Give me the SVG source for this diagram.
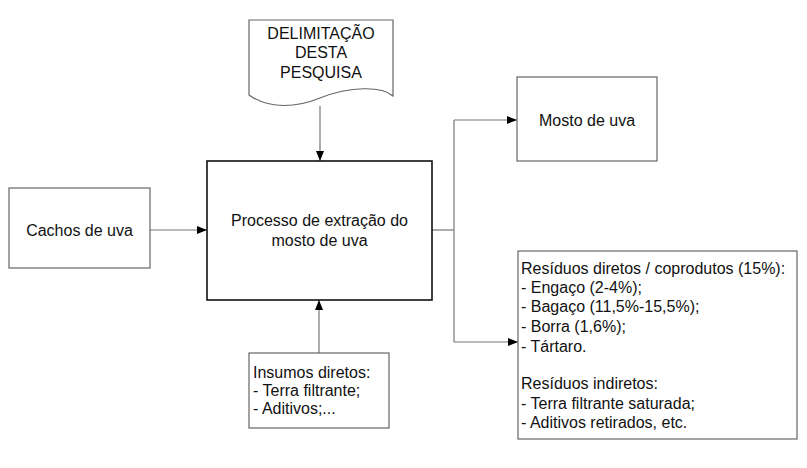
<svg xmlns="http://www.w3.org/2000/svg" width="807" height="468" viewBox="0 0 807 468">
<style>
text{font-family:"Liberation Sans",Arial,sans-serif;font-size:16px;fill:#111}
.box{fill:#fff;stroke:#666;stroke-width:1.2}
.main{fill:#fff;stroke:#111;stroke-width:1.6}
.c{fill:none;stroke:#777;stroke-width:1.2}
.m{text-anchor:middle}
</style>
<defs>
<marker id="ah" viewBox="0 0 10 8" refX="10" refY="4" markerWidth="10" markerHeight="8" markerUnits="userSpaceOnUse" orient="auto">
<path d="M0,0L10,4L0,8Z" fill="#000"/>
</marker>
</defs>
<rect width="807" height="468" fill="#fff"/>
<g id="connectors">
<path class="c" d="M320,106V161" marker-end="url(#ah)"/>
<path class="c" d="M150,230H207" marker-end="url(#ah)"/>
<path class="c" d="M319,353V300" marker-end="url(#ah)"/>
<path class="c" d="M432,230H454"/>
<path class="c" d="M454,120V342"/>
<path class="c" d="M454,120H517" marker-end="url(#ah)"/>
<path class="c" d="M454,342H518" marker-end="url(#ah)"/>
</g>
<g id="delimitacao">
<path class="box" d="M249,20H393V96C382,86 350,86 320,98C298,107 270,110 249,95Z"/>
<text class="m" x="321" y="39">DELIMITAÇÃO</text>
<text class="m" x="321" y="58">DESTA</text>
<text class="m" x="321" y="78">PESQUISA</text>
</g>
<g id="cachos">
<rect class="box" x="9" y="188" width="141" height="80"/>
<text class="m" x="79.5" y="236">Cachos de uva</text>
</g>
<g id="processo">
<rect class="main" x="207" y="161" width="225" height="139"/>
<text class="m" x="319.5" y="226">Processo de extração do</text>
<text class="m" x="319.5" y="246">mosto de uva</text>
</g>
<g id="insumos">
<rect class="box" x="249" y="353" width="140" height="75"/>
<text x="253" y="378">Insumos diretos:</text>
<text x="253" y="396">- Terra filtrante;</text>
<text x="253" y="414">- Aditivos;...</text>
</g>
<g id="mosto">
<rect class="box" x="517" y="77" width="140" height="84"/>
<text class="m" x="587" y="126">Mosto de uva</text>
</g>
<g id="residuos">
<rect class="box" x="518" y="251" width="279" height="188"/>
<text x="521" y="274">Resíduos diretos / coprodutos (15%):</text>
<text x="521" y="293">- Engaço (2-4%);</text>
<text x="521" y="312">- Bagaço (11,5%-15,5%);</text>
<text x="521" y="332">- Borra (1,6%);</text>
<text x="521" y="352">- Tártaro.</text>
<text x="521" y="389">Resíduos indiretos:</text>
<text x="521" y="409">- Terra filtrante saturada;</text>
<text x="521" y="428">- Aditivos retirados, etc.</text>
</g>
</svg>
